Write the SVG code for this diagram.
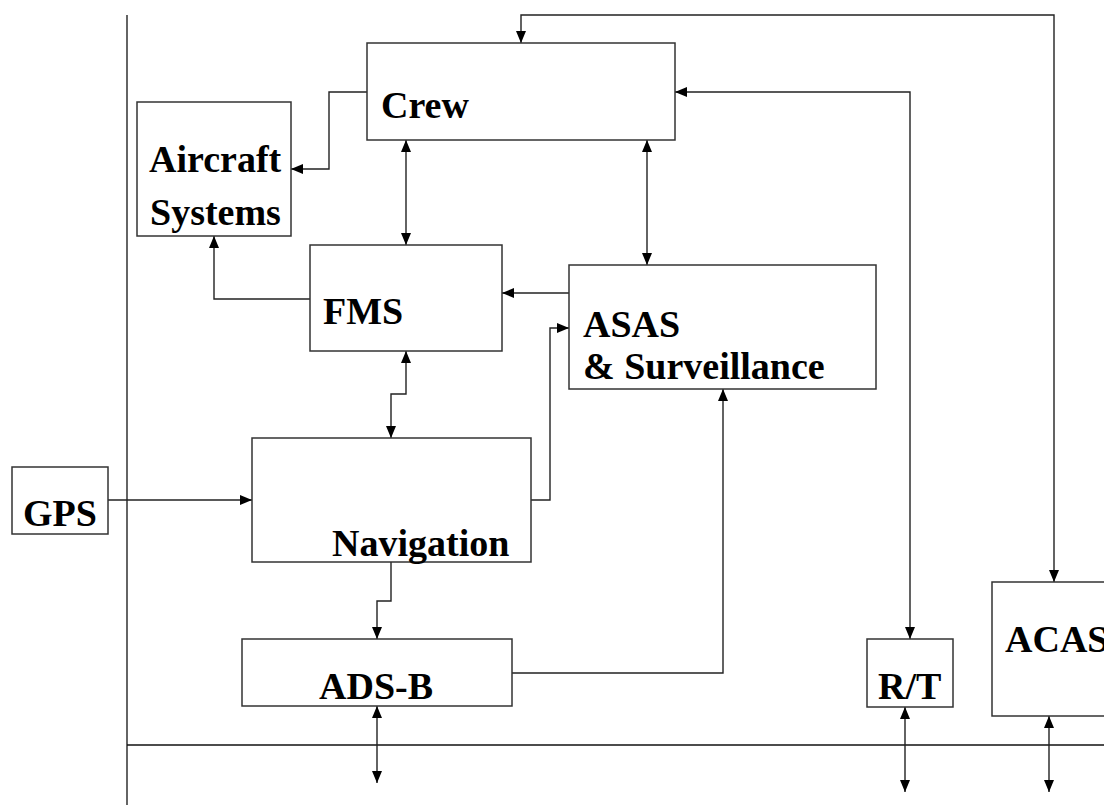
<svg xmlns="http://www.w3.org/2000/svg" width="1104" height="805" viewBox="0 0 1104 805">
<defs>
<marker id="ah" viewBox="0 0 12 10" refX="12" refY="5" markerWidth="12" markerHeight="10" markerUnits="userSpaceOnUse" orient="auto-start-reverse">
<path d="M0,0 L12,5 L0,10 z" fill="#000"/>
</marker>
<style>
.box{fill:#fff;stroke:#333;stroke-width:1.5}
.lbl{font-family:"Liberation Serif","Times New Roman",serif;font-weight:bold;font-size:38px;fill:#000}
.c{fill:none;stroke:#222;stroke-width:1.4}
.frame{fill:none;stroke:#111;stroke-width:1.3}
</style>
</defs>
<rect width="1104" height="805" fill="#fff"/>
<g id="frame">
<line class="frame" x1="127" y1="15" x2="127" y2="805"/>
<line class="frame" x1="127" y1="745" x2="1104" y2="745"/>
</g>
<g id="connectors">
<path class="c" d="M1054,582 V15 H521 V43" marker-start="url(#ah)" marker-end="url(#ah)"/>
<path class="c" d="M675,92 H910 V639" marker-start="url(#ah)" marker-end="url(#ah)"/>
<path class="c" d="M367,92 H329 V169 H291" marker-end="url(#ah)"/>
<path class="c" d="M406,140 V245" marker-start="url(#ah)" marker-end="url(#ah)"/>
<path class="c" d="M647,140 V265" marker-start="url(#ah)" marker-end="url(#ah)"/>
<path class="c" d="M310,299 H214 V236" marker-end="url(#ah)"/>
<path class="c" d="M569,293 H502" marker-end="url(#ah)"/>
<path class="c" d="M406,351 V394 H391 V438" marker-start="url(#ah)" marker-end="url(#ah)"/>
<path class="c" d="M531,500 H550 V328 H569" marker-end="url(#ah)"/>
<path class="c" d="M108,500 H252" marker-end="url(#ah)"/>
<path class="c" d="M391,562 V601 H377 V639" marker-end="url(#ah)"/>
<path class="c" d="M512,673 H723 V389" marker-end="url(#ah)"/>
<path class="c" d="M377,706 V783" marker-start="url(#ah)" marker-end="url(#ah)"/>
<path class="c" d="M905,707 V792" marker-start="url(#ah)" marker-end="url(#ah)"/>
<path class="c" d="M1049,716 V792" marker-start="url(#ah)" marker-end="url(#ah)"/>
</g>
<g id="crew">
<rect class="box" x="367" y="43" width="308" height="97"/>
<text class="lbl" x="381" y="118">Crew</text>
</g>
<g id="aircraft-systems">
<rect class="box" x="137" y="102" width="154" height="134"/>
<text class="lbl" x="149" y="172">Aircraft</text>
<text class="lbl" x="150" y="225">Systems</text>
</g>
<g id="fms">
<rect class="box" x="310" y="245" width="192" height="106"/>
<text class="lbl" x="323" y="324">FMS</text>
</g>
<g id="asas">
<rect class="box" x="569" y="265" width="307" height="124"/>
<text class="lbl" x="583" y="337">ASAS</text>
<text class="lbl" x="583" y="379">&amp; Surveillance</text>
</g>
<g id="gps">
<rect class="box" x="12" y="467" width="96" height="67"/>
<text class="lbl" x="23" y="526">GPS</text>
</g>
<g id="navigation">
<rect class="box" x="252" y="438" width="279" height="124"/>
<text class="lbl" x="332" y="556">Navigation</text>
</g>
<g id="ads-b">
<rect class="box" x="242" y="639" width="270" height="67"/>
<text class="lbl" x="319" y="699">ADS-B</text>
</g>
<g id="rt">
<rect class="box" x="867" y="639" width="86" height="68"/>
<text class="lbl" x="878" y="699">R/T</text>
</g>
<g id="acas">
<rect class="box" x="992" y="582" width="150" height="134"/>
<text class="lbl" x="1005" y="652">ACAS</text>
</g>
</svg>
